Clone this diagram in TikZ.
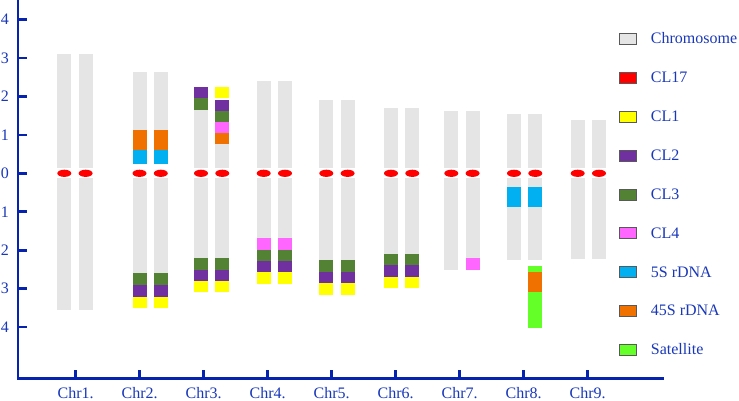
\documentclass[tikz,border=0pt]{standalone}
\usepackage{fontspec}
\setmainfont{Liberation Serif}
\usepackage{tikz}
\usetikzlibrary{positioning}
\usepackage{xcolor}
\definecolor{axisblue}{RGB}{5,35,175}
\definecolor{labelblue}{RGB}{25,55,185}
\definecolor{chromgray}{RGB}{229,229,229}
\definecolor{cenred}{RGB}{255,0,0}
\definecolor{clone}{RGB}{255,255,0}
\definecolor{cltwo}{RGB}{112,48,160}
\definecolor{clthree}{RGB}{84,130,53}
\definecolor{clfour}{RGB}{255,102,255}
\definecolor{rdnafive}{RGB}{0,176,240}
\definecolor{rdnafortyfive}{RGB}{240,112,0}
\definecolor{satgreen}{RGB}{100,255,40}

\begin{document}
\begin{tikzpicture}[x=1pt,y=-1pt,font=\fontsize{16}{18}\selectfont,
    every node/.style={text=labelblue,inner sep=0pt}]
        \useasboundingbox (0,0) rectangle (739,401);
        \def\w{14}
        \def\d{21.3}
        % chromatid arms (both sister chromatids)
        \foreach \l/\t/\m/\b in {57.3/54.3/168/310, 132.5/72.5/164/308.3,
            256.7/81/168/283.7, 319.3/100/168/294.7, 384/108/168/288,
            444.3/110.7/168/269.7, 507/114/168/259.7, 570.7/120/168/259}{
          \fill[chromgray] (\l,\t) rectangle ({\l+\w},\m);
          \fill[chromgray] (\l,178) rectangle ({\l+\w},\b);
          \fill[chromgray] ({\l+\d},\t) rectangle ({\l+\d+\w},\m);
          \fill[chromgray] ({\l+\d},178) rectangle ({\l+\d+\w},\b);
        }
        \foreach \l/\t/\b in {194/86.7/291.7, 215.3/99.7/291.7}{
          \fill[chromgray] (\l,\t) rectangle ({\l+\w},168);
          \fill[chromgray] (\l,178) rectangle ({\l+\w},\b);
        }
        % bands found on both chromatids
        \foreach \l/\t/\b/\c in {132.5/130/150/rdnafortyfive, 132.5/150/164/rdnafive,
            132.5/273/285/clthree, 132.5/285/296.7/cltwo, 132.5/296.7/308.3/clone,
            194/257.7/269.7/clthree, 194/269.7/280.7/cltwo, 194/280.7/291.7/clone,
            256.7/238.3/250/clfour, 256.7/250/261.3/clthree, 256.7/261.3/272.3/cltwo,
            256.7/272.3/283.7/clone,
            319.3/260/272/clthree, 319.3/272/282.7/cltwo, 319.3/282.7/294.7/clone,
            384/253.7/265.3/clthree, 384/265.3/276.7/cltwo, 384/276.7/288/clone,
            507/187.3/207.3/rdnafive}{
          \fill[\c] (\l,\t) rectangle ({\l+\w},\b);
          \fill[\c] ({\l+\d},\t) rectangle ({\l+\d+\w},\b);
        }
        % bands found on one chromatid only
        \foreach \l/\t/\b/\c in {194/86.7/98/cltwo, 194/98/109.7/clthree,
            215.3/86.7/98.3/clone, 215.3/99.7/111.3/cltwo, 215.3/111.3/122.3/clthree,
            215.3/122.3/132.7/clfour, 215.3/132.7/144.3/rdnafortyfive,
            465.7/258.3/269.7/clfour,
            528/266/271.7/satgreen, 528/271.7/292/rdnafortyfive, 528/292/328.3/satgreen}
          \fill[\c] (\l,\t) rectangle ({\l+\w},\b);
        % centromeres (CL17)
        \foreach \l in {57.3,132.5,194,256.7,319.3,384,444.3,507,570.7}{
          \fill[cenred] ({\l+\w/2},173.3) ellipse (7 and 3.6);
          \fill[cenred] ({\l+\d+\w/2},173.3) ellipse (7 and 3.6);
        }
        % axes
        \draw[axisblue,line width=2.8pt] (18,0) -- (18,378.3) -- (664,378.3);
        \foreach \lab [count=\i from 0] in {4,3,2,1,0,1,2,3,4}{
          \draw[axisblue,line width=2.6pt] (18,{19.5+38.45*\i}) -- (26.5,{19.5+38.45*\i});
          \node (ylab\i) at (5,{19.5+38.45*\i}) {\lab};
        }
        \foreach \i in {1,...,9}{
          \draw[axisblue,line width=2.6pt] ({75.7+64*(\i-1)},378.3) -- ({75.7+64*(\i-1)},370.3);
          \node[anchor=base] (chr\i) at ({75.7+64*(\i-1)},398.8) {Chr\i.};
        }
        % legend
        \foreach \c/\txt [count=\i from 0] in {chromgray/Chromosome, cenred/CL17,
            clone/CL1, cltwo/CL2, clthree/CL3, clfour/CL4, rdnafive/5S rDNA,
            rdnafortyfive/45S rDNA, satgreen/Satellite}{
          \filldraw[fill=\c,draw=black!65,line width=0.8pt]
            (619.5,{38.8+38.9*\i-5.5}) rectangle (636,{38.8+38.9*\i+5.5});
          \node[anchor=base west] (leg\i) at (650.7,{38.8+38.9*\i+4.8}) {\txt};
        }
      \end{tikzpicture}
\end{document}
